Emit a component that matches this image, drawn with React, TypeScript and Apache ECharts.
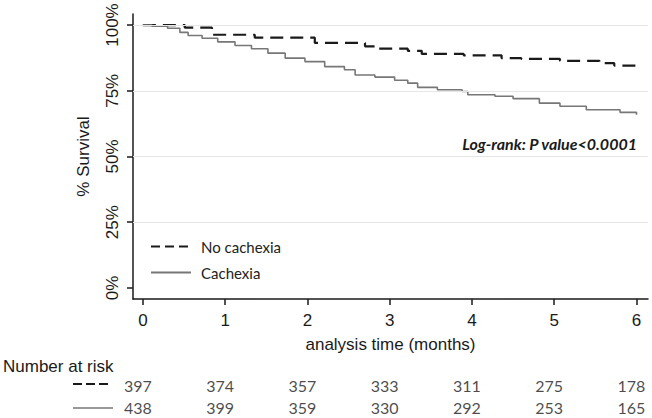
import React, { useEffect, useRef } from "react";
import * as echarts from "echarts";

// Kaplan-Meier estimates (time in months, survival in %)
const noCachexiaTime = [0, 0.51, 0.84, 1.36, 2.09, 2.7, 2.82, 3.22, 3.39, 3.9, 4.36, 4.6, 5.07, 5.55, 5.73, 6.0];
const noCachexiaSurv = [100, 99.0, 96.3, 95.2, 93.2, 91.9, 91.0, 90.2, 89.0, 88.5, 87.4, 87.1, 86.4, 85.5, 84.6, 84.6];

const cachexiaTime = [0, 0.11, 0.3, 0.45, 0.55, 0.72, 0.91, 1.12, 1.32, 1.52, 1.73, 1.97, 2.21, 2.45, 2.58, 2.82, 3.06, 3.22, 3.34, 3.58, 3.88, 3.95, 4.28, 4.5, 4.82, 5.07, 5.39, 5.8, 6.0];
const cachexiaSurv = [100, 99.6, 98.8, 97.2, 96.0, 95.0, 93.6, 92.2, 91.0, 89.3, 87.4, 86.1, 84.2, 83.0, 81.0, 80.2, 79.0, 77.9, 76.3, 75.4, 74.7, 73.5, 72.9, 72.0, 70.3, 69.1, 67.8, 66.8, 65.9];

const xTicks = [0, 1, 2, 3, 4, 5, 6];
const yTicks = [0, 25, 50, 75, 100];
const gridValues = [25, 50, 75, 100];

const riskRows = ["Cachexia", "No cachexia"];
const riskNoCachexia = [397, 374, 357, 333, 311, 275, 178];
const riskCachexia = [438, 399, 359, 330, 292, 253, 165];

const seriesNames = ["No cachexia", "Cachexia"];

export default function App() {
  const ref = useRef<HTMLDivElement>(null);

  useEffect(() => {
    if (!ref.current) return;
    const chart = echarts.init(ref.current, null, { renderer: "svg" });
    const arial = "Liberation Sans, Arial, sans-serif";
    const calibri = "Lato, Noto Sans, sans-serif";

    const riskData: any[] = [];
    xTicks.forEach((t, i) => {
      riskData.push([t, "No cachexia", riskNoCachexia[i]]);
      riskData.push([t, "Cachexia", riskCachexia[i]]);
    });

    chart.setOption({
      animation: false,
      backgroundColor: "#ffffff",
      grid: [
        { left: 133, right: 4, top: 14, bottom: 119, containLabel: false },
        { left: 133, right: 4, top: 374, height: 50, containLabel: false },
      ],
      legend: {
        orient: "vertical",
        left: 145,
        top: 234,
        itemWidth: 40,
        itemHeight: 14,
        itemGap: 11,
        itemStyle: { opacity: 0 },
        textStyle: { fontFamily: calibri, fontSize: 15, color: "#222", padding: [0, 0, 0, 5] },
        data: [
          { name: seriesNames[0], lineStyle: { type: [9, 5], width: 2, color: "#1a1a1a" } },
          { name: seriesNames[1] },
        ],
      },
      graphic: [
        {
          type: "text",
          x: 637,
          y: 143,
          style: {
            text: "Log-rank: P value<0.0001",
            fontFamily: calibri,
            fontSize: 16,
            fontWeight: "bold",
            fontStyle: "italic",
            fill: "#1a1a1a",
            textAlign: "right",
            textVerticalAlign: "middle",
          },
        },
        {
          type: "text",
          x: 3,
          y: 366,
          style: {
            text: "Number at risk",
            fontFamily: arial,
            fontSize: 17,
            fill: "#1a1a1a",
            textAlign: "left",
            textVerticalAlign: "middle",
          },
        },
        {
          type: "line",
          shape: { x1: 73, y1: 384, x2: 108, y2: 384 },
          style: { stroke: "#1a1a1a", lineWidth: 2, lineDash: [9, 4] },
        },
        {
          type: "line",
          shape: { x1: 73, y1: 408, x2: 113, y2: 408 },
          style: { stroke: "#777777", lineWidth: 1.5 },
        },
      ],
      xAxis: [
        {
          type: "value",
          gridIndex: 0,
          min: -0.12,
          max: 6.14,
          name: "analysis time (months)",
          nameLocation: "middle",
          nameGap: 37,
          nameTextStyle: { fontFamily: arial, fontSize: 17, color: "#1a1a1a" },
          axisLine: { show: true, onZero: false, lineStyle: { color: "#1a1a1a", width: 1.5 } },
          axisTick: { show: true, length: 6, customValues: xTicks, lineStyle: { color: "#1a1a1a", width: 1.5 } },
          axisLabel: {
            customValues: xTicks,
            margin: 13,
            fontFamily: arial,
            fontSize: 17,
            color: "#1a1a1a",
          },
          splitLine: { show: false },
        },
        {
          type: "value",
          gridIndex: 1,
          min: -0.12,
          max: 6.14,
          show: false,
        },
      ],
      yAxis: [
        {
          type: "value",
          gridIndex: 0,
          min: -4.2,
          max: 104.2,
          name: "% Survival",
          nameLocation: "middle",
          nameRotate: 90,
          nameGap: 41,
          nameTextStyle: { fontFamily: arial, fontSize: 17, color: "#1a1a1a" },
          axisLine: { show: true, onZero: false, lineStyle: { color: "#1a1a1a", width: 1.5 } },
          axisTick: { show: true, length: 6, customValues: yTicks, lineStyle: { color: "#1a1a1a", width: 1.5 } },
          axisLabel: {
            customValues: yTicks,
            rotate: 90,
            margin: 12,
            fontFamily: arial,
            fontSize: 17,
            color: "#1a1a1a",
            formatter: (v: number) => `${v}%`,
          },
          splitLine: { show: false },
        },
        {
          type: "category",
          gridIndex: 1,
          data: riskRows,
          boundaryGap: true,
          show: false,
        },
      ],
      series: [
        {
          name: "gridlines",
          type: "line",
          xAxisIndex: 0,
          yAxisIndex: 0,
          data: [],
          silent: true,
          markLine: {
            silent: true,
            symbol: "none",
            label: { show: false },
            lineStyle: { color: "#e6e6e6", type: "solid", width: 1 },
            data: gridValues.map((v) => ({ yAxis: v })),
          },
        },
        {
          name: seriesNames[0],
          type: "line",
          step: "end",
          xAxisIndex: 0,
          yAxisIndex: 0,
          symbol: "none",
          lineStyle: { color: "#1a1a1a", width: 2.2, type: [13, 7] },
          itemStyle: { color: "#1a1a1a" },
          data: noCachexiaTime.map((t, i) => [t, noCachexiaSurv[i]]),
          z: 3,
        },
        {
          name: seriesNames[1],
          type: "line",
          step: "end",
          xAxisIndex: 0,
          yAxisIndex: 0,
          symbol: "none",
          lineStyle: { color: "#777777", width: 1.6, type: "solid" },
          itemStyle: { color: "#777777" },
          data: cachexiaTime.map((t, i) => [t, cachexiaSurv[i]]),
          z: 3,
        },
        {
          name: "risk",
          type: "scatter",
          xAxisIndex: 1,
          yAxisIndex: 1,
          symbol: "circle",
          symbolSize: 0,
          itemStyle: { color: "rgba(0,0,0,0)" },
          silent: true,
          data: riskData,
          label: {
            show: true,
            position: "inside",
            offset: [-5, 0],
            formatter: (p: any) => String(p.value[2]),
            fontFamily: calibri,
            fontSize: 16,
            color: "#1a1a1a",
          },
        },
      ],
    });

    return () => chart.dispose();
  }, []);

  return (
    <div
      ref={ref}
      style={{ position: "absolute", left: 0, top: 0, width: 652, height: 418 }}
    />
  );
}
